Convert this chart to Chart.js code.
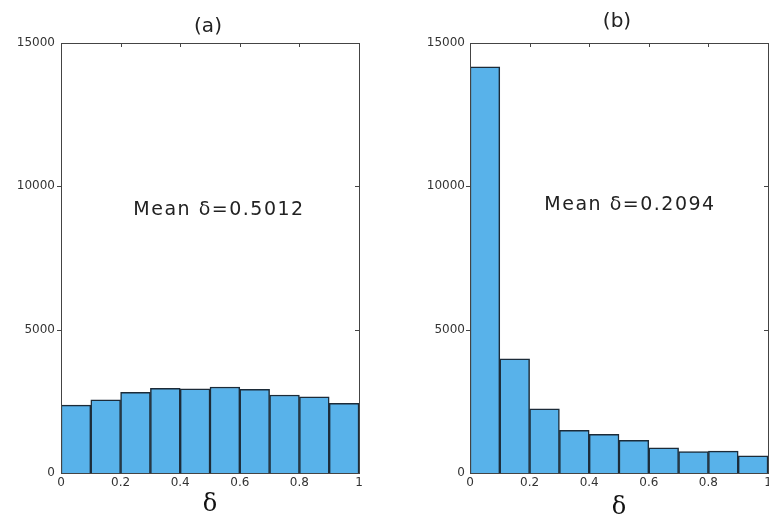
<!DOCTYPE html>
<html>
<head>
<meta charset="utf-8">
<script src="https://cdn.jsdelivr.net/npm/chart.js@4/dist/chart.umd.min.js"></script>
<style>
  html, body { margin: 0; padding: 0; background: #fff; overflow: hidden; }
  #wrap { position: relative; width: 769px; height: 515px; }
  .panel { position: absolute; top: 0; height: 515px; }
</style>
</head>
<body>
<div id="wrap">
  <div class="panel" style="left:0;width:380px"><canvas id="chart-a"></canvas></div>
  <div class="panel" style="left:380px;width:389px"><canvas id="chart-b"></canvas></div>
</div>
<script>
// histogram bins (delta), centres of the 0.1 wide bins
const binCenters = [0.05, 0.15, 0.25, 0.35, 0.45, 0.55, 0.65, 0.75, 0.85, 0.95];
const countsA = [2370, 2550, 2810, 2950, 2940, 3000, 2920, 2720, 2660, 2430];
const countsB = [14170, 3980, 2240, 1490, 1350, 1140, 880, 745, 765, 595];
const yTicks = [0, 5000, 10000, 15000];
const xTicks = [0, 0.2, 0.4, 0.6, 0.8, 1];
const panelTitles = ['(a)', '(b)'];
const meanTexts = ['Mean \u03b4=0.5012', 'Mean \u03b4=0.2094'];

const BAR_FILL = '#58b2ea';
const BAR_EDGE = '#1c2b38';

// frame, small matlab-ish ticks and the text labels
const framePlugin = {
  id: 'frame',
  afterDraw(chart, args, opts) {
    const { ctx, chartArea: a, scales } = chart;
    ctx.save();
    ctx.strokeStyle = '#444';
    ctx.lineWidth = 1;
    ctx.strokeRect(a.left + 0.5, a.top + 0.5, a.right - a.left, a.bottom - a.top);
    ctx.beginPath();
    yTicks.slice(1, -1).forEach(v => {
      const y = Math.round(scales.y.getPixelForValue(v)) + 0.5;
      ctx.moveTo(a.left - 4, y); ctx.lineTo(a.left, y);
      ctx.moveTo(a.right - 4, y); ctx.lineTo(a.right, y);
    });
    xTicks.slice(1, -1).forEach(v => {
      const x = Math.round(scales.x.getPixelForValue(v)) + 0.5;
      ctx.moveTo(x, a.top); ctx.lineTo(x, a.top + 4);
    });
    ctx.stroke();

    ctx.fillStyle = '#222';
    ctx.textAlign = 'center';
    ctx.textBaseline = 'middle';
    ctx.font = '20px "DejaVu Sans"';
    ctx.fillText(opts.title, opts.titleX, opts.titleY);
    // the scanned figure uses a wide font, spread the letters a bit
    ctx.letterSpacing = '1.5px';
    ctx.font = '19px "DejaVu Sans"';
    ctx.fillText(opts.mean, opts.meanX, opts.meanY);
    ctx.letterSpacing = '0px';
    ctx.restore();
  }
};

function makeHist(id, counts, o) {
  return new Chart(document.getElementById(id), {
    type: 'bar',
    data: {
      datasets: [{
        data: binCenters.map((c, i) => ({ x: c, y: counts[i] })),
        backgroundColor: BAR_FILL,
        borderColor: BAR_EDGE,
        borderWidth: 1.5,
        barPercentage: 1,
        categoryPercentage: 1,
      }],
    },
    options: {
      responsive: false,
      animation: false,
      maintainAspectRatio: false,
      layout: { padding: { top: 43, right: o.padRight, left: 0, bottom: 0 } },
      plugins: {
        legend: { display: false },
        tooltip: { enabled: false },
        frame: o.frame,
      },
      scales: {
        x: {
          type: 'linear', min: 0, max: 1, offset: false,
          afterBuildTicks: s => { s.ticks = xTicks.map(v => ({ value: v })); },
          // fixed height, and let the last label run off the edge like the scan
          afterFit: s => { s.height = 42; s.paddingRight = 0; s.paddingLeft = 0; },
          grid: { display: false, drawTicks: false, offset: false },
          border: { display: false },
          ticks: { color: '#333', padding: o.xPad, maxRotation: 0, autoSkip: false,
                   font: { family: 'DejaVu Sans', size: 12 }, callback: v => String(v) },
          title: { display: true, text: '\u03b4', color: '#111', padding: { top: 0, bottom: o.deltaPad },
                   font: { family: 'DejaVu Serif', size: 24 } },
        },
        y: {
          min: 0, max: 15000,
          afterBuildTicks: s => { s.ticks = yTicks.map(v => ({ value: v })); },
          afterFit: s => { s.width = o.yWidth; },
          grid: { display: false, drawTicks: false },
          border: { display: false },
          ticks: { color: '#333', padding: o.yPad, font: { family: 'DejaVu Sans', size: 12 },
                   callback: v => String(v) },
        },
      },
    },
    plugins: [framePlugin],
  });
}

document.getElementById('chart-a').width = 380;
document.getElementById('chart-a').height = 515;
document.getElementById('chart-b').width = 389;
document.getElementById('chart-b').height = 515;

makeHist('chart-a', countsA, {
  padRight: 21, yWidth: 61, yPad: 6, xPad: 3, deltaPad: -4,
  frame: { title: panelTitles[0], titleX: 208, titleY: 27, mean: meanTexts[0], meanX: 219, meanY: 210 },
});
makeHist('chart-b', countsB, {
  padRight: 1, yWidth: 90, yPad: 5, xPad: 3, deltaPad: -7,
  frame: { title: panelTitles[1], titleX: 237, titleY: 22, mean: meanTexts[1], meanX: 250, meanY: 205 },
});
</script>
</body>
</html>
